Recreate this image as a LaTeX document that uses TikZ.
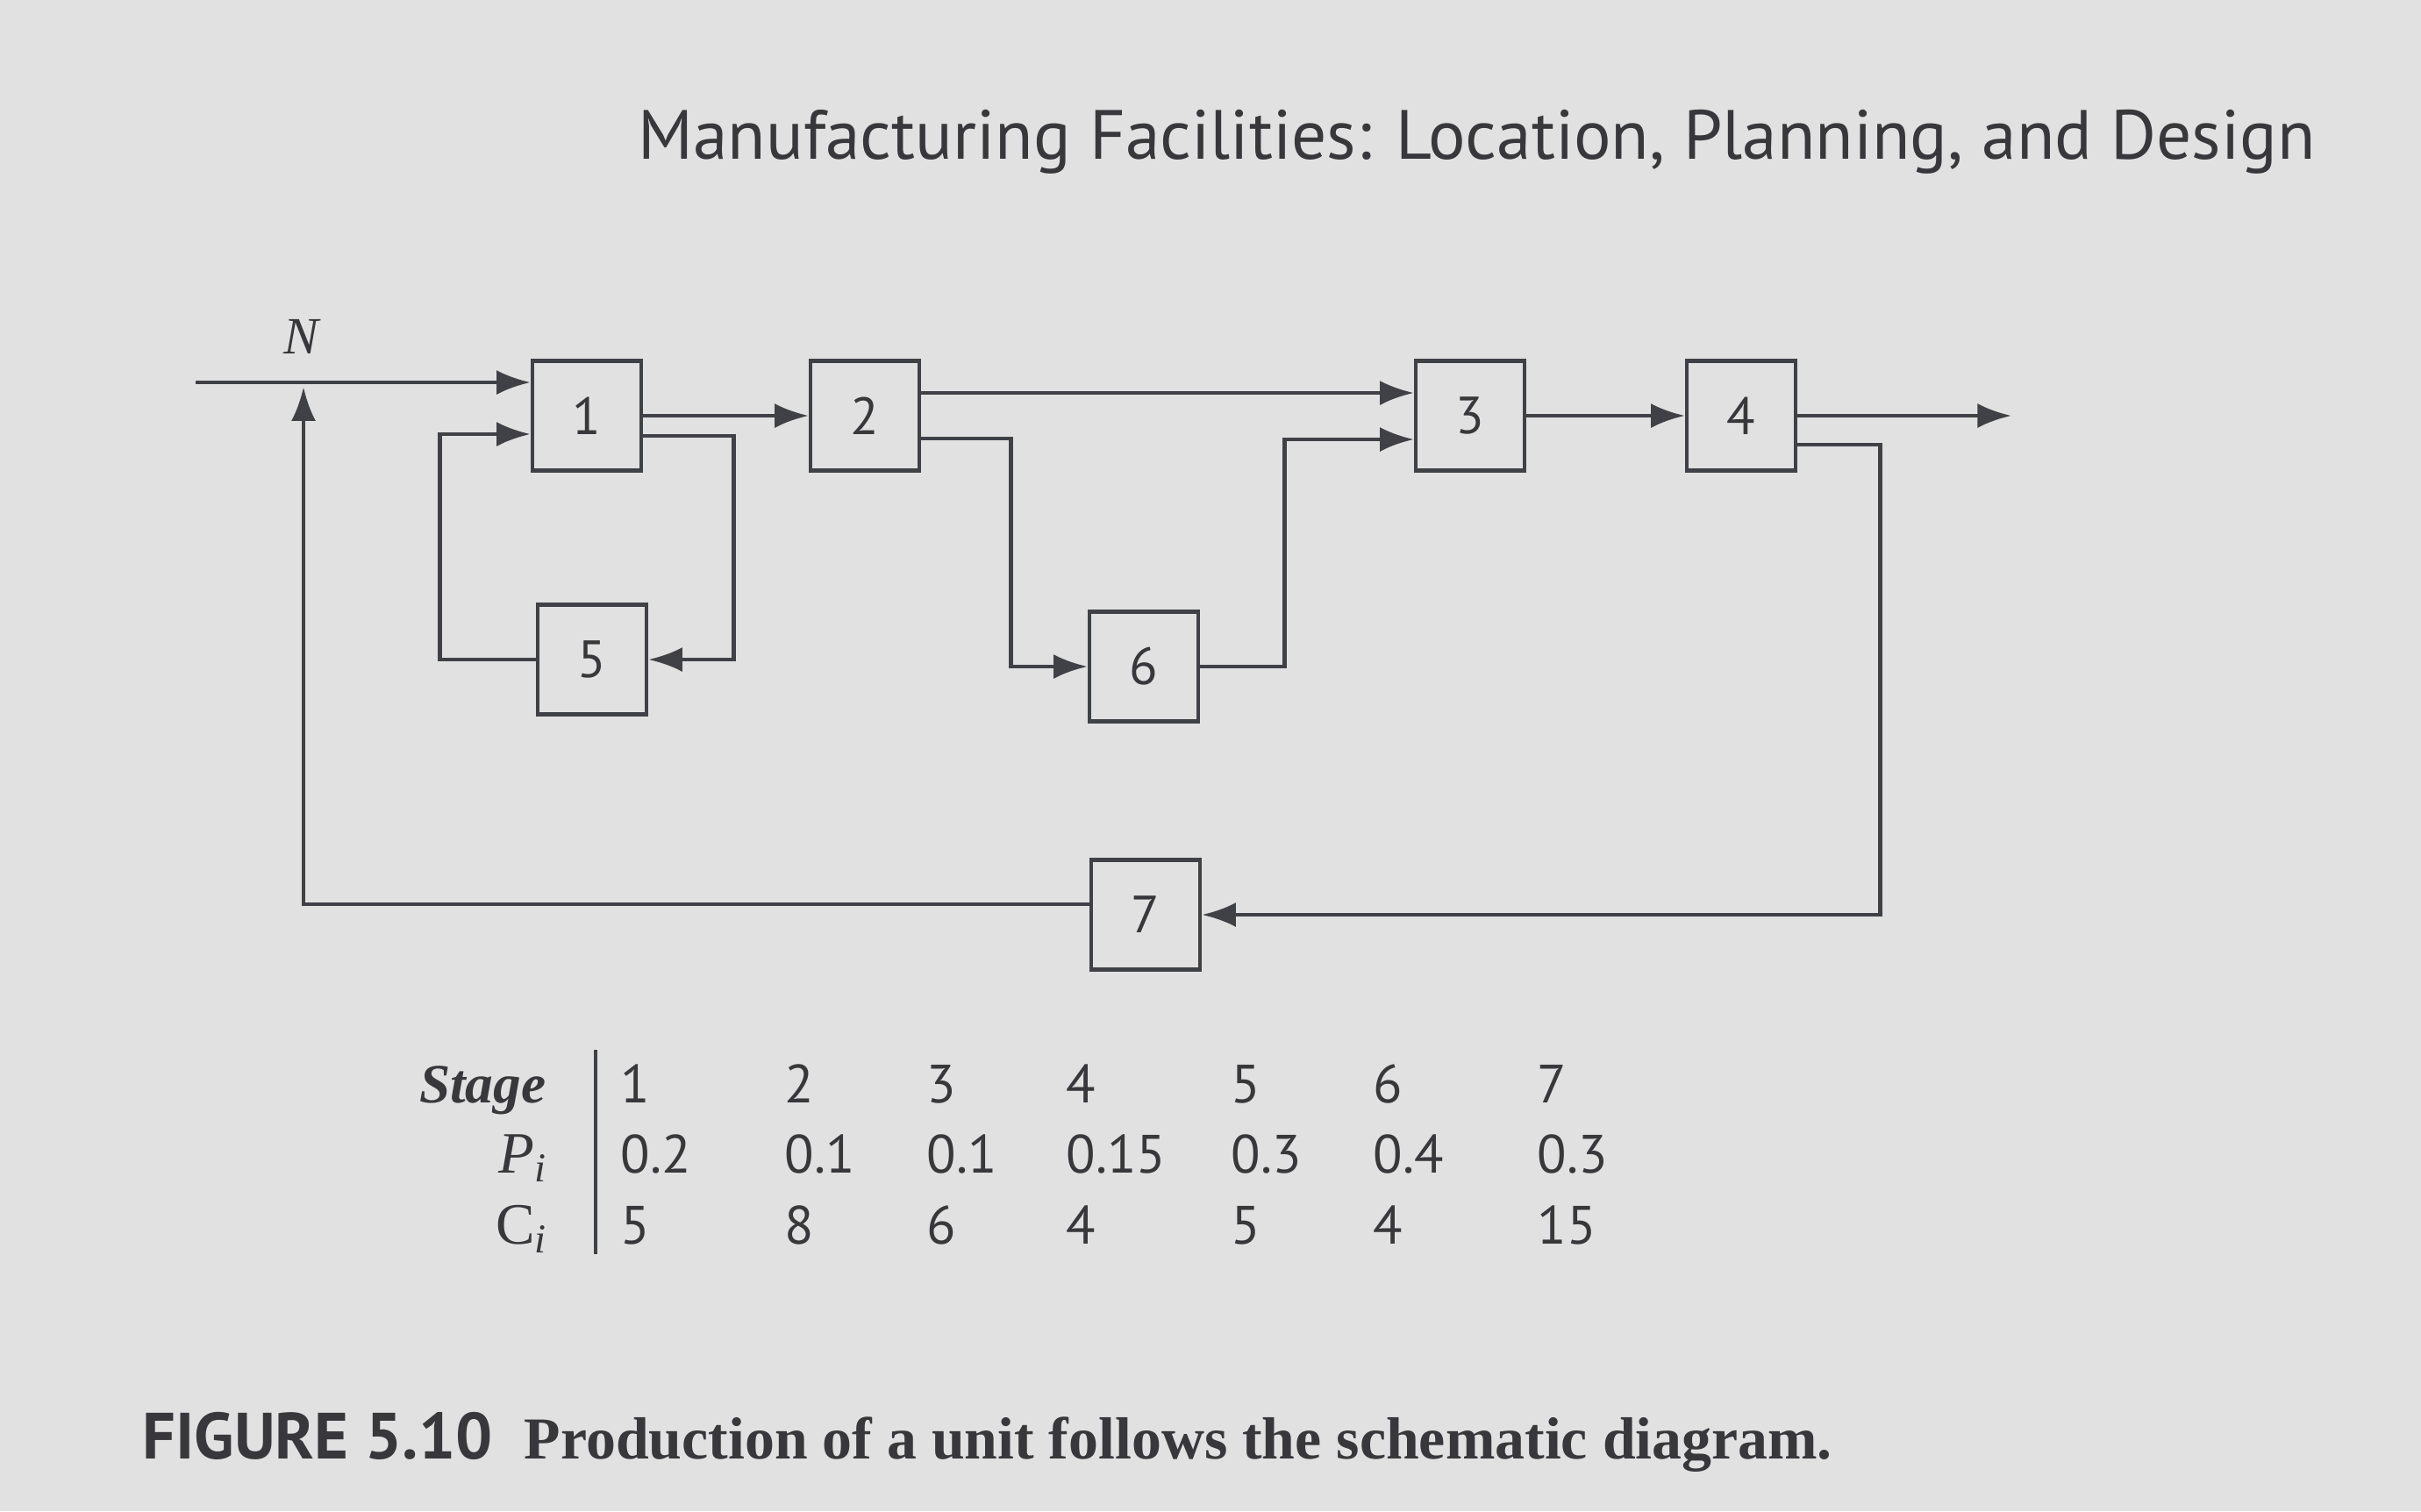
\documentclass[tikz,border=0pt]{standalone}
\usepackage{fontspec}
\setmainfont{Liberation Serif}
\setsansfont{PT Sans}
\usetikzlibrary{arrows.meta,positioning,calc}
\definecolor{paper}{HTML}{E1E1E1}
\definecolor{ink}{HTML}{404047}
\definecolor{inktext}{HTML}{38383C}
\tikzset{
  stagebox/.style={draw=ink, line width=1.3pt, minimum width=1.24cm,
    minimum height=1.25cm, inner sep=0pt, text=inktext,
    font=\sffamily\fontsize{17}{19}\selectfont},
  flow/.style={-{Latex[length=11pt,width=8pt]}, line width=1.3pt, color=ink},
  tabnum/.style={anchor=base west, inner sep=0pt, text=inktext,
    font=\sffamily\fontsize{17.5}{21}\selectfont},
  tablab/.style={anchor=base east, inner sep=0pt, text=inktext,
    font=\fontsize{19}{22}\selectfont},
  headline/.style={anchor=base west, inner sep=0pt, text=inktext,
    font=\sffamily\fontsize{22.6}{26}\selectfont},
}

\begin{document}
\begin{tikzpicture}[x=1cm,y=1cm]
  \useasboundingbox (0,0) rectangle (27.6,-17.23);
  \fill[paper] (0,0) rectangle (27.6,-17.23);
  \node[headline] (title) at (7.27,-1.81)
    {Manufacturing Facilities: Location, Planning, and Design};
  % the stages
  \node[stagebox] (s1) at (6.69,-4.74) {1};
  \node[stagebox] (s2) at (9.86,-4.74) {2};
  \node[stagebox] (s3) at (16.76,-4.74) {3};
  \node[stagebox] (s4) at (19.85,-4.74) {4};
  \node[stagebox] (s5) at (6.75,-7.52) {5};
  \node[stagebox] (s6) at (13.04,-7.60) {6};
  \node[stagebox] (s7) at (13.06,-10.43) {7};
  \coordinate (in) at (2.23,-4.36);
  \coordinate (join) at (3.46,-4.36);
  \coordinate (out) at (22.93,-4.74);
  \node[text=inktext, font=\itshape\fontsize{17}{20}\selectfont] (N) at (3.43,-3.84) {N};
  % main line
  \draw[flow] (in) -- ([yshift=0.38cm]s1.west);
  \draw[flow] (s1.east) -- (s2.west);
  \draw[flow] ([yshift=0.26cm]s2.east) -- ([yshift=0.26cm]s3.west);
  \draw[flow] (s3.east) -- (s4.west);
  \draw[flow] (s4.east) -- (out);
  % rework loop through 5
  \draw[flow] ([yshift=-0.23cm]s1.east) -- ++(1.03,0) |- (s5.east);
  \draw[flow] (s5.west) -- ++(-1.09,0) |- ([yshift=-0.21cm]s1.west);
  % branch through 6
  \draw[flow] ([yshift=-0.26cm]s2.east) -- ++(1.02,0) |- (s6.west);
  \draw[flow] (s6.east) -- ++(0.96,0) |- ([yshift=-0.27cm]s3.west);
  % return through 7
  \draw[flow] ([yshift=-0.33cm]s4.east) -- ++(0.94,0) |- (s7.east);
  \draw[flow, shorten >=1.5pt] ([yshift=0.12cm]s7.west) -| (join);
  % stage data
  \draw[ink, line width=1.3pt] (6.79,-11.97) -- (6.79,-14.30);
  \node[tablab, font=\itshape\bfseries\fontsize{18}{21}\selectfont] (stage) at (6.23,-12.57) {Stage};
  \node[tablab] (plab) at (6.25,-13.37) {\textit{P}\textsubscript{\textit{i}}};
  \node[tablab] (clab) at (6.25,-14.18) {C\textsubscript{\textit{i}}};
  \foreach \x/\s/\p/\c in {7.07/1/0.2/5, 8.94/2/0.1/8, 10.56/3/0.1/6,
      12.15/4/0.15/4, 14.03/5/0.3/5, 15.65/6/0.4/4, 17.52/7/0.3/15} {
    \node[tabnum] (st\s) at (\x,-12.57) {\s};
    \node[tabnum] (pr\s) at (\x,-13.37) {\p};
    \node[tabnum] (co\s) at (\x,-14.18) {\c};
  }
  % caption
  \node[headline, font=\sffamily\bfseries\fontsize{21.2}{25}\selectfont] (fig) at (1.62,-16.63) {FIGURE 5.10};
  \node[headline, font=\bfseries\fontsize{19.3}{23}\selectfont, right=0.35cm of fig.base east, anchor=base west] (cap)
    {Production of a unit follows the schematic diagram.};
\end{tikzpicture}
\end{document}
